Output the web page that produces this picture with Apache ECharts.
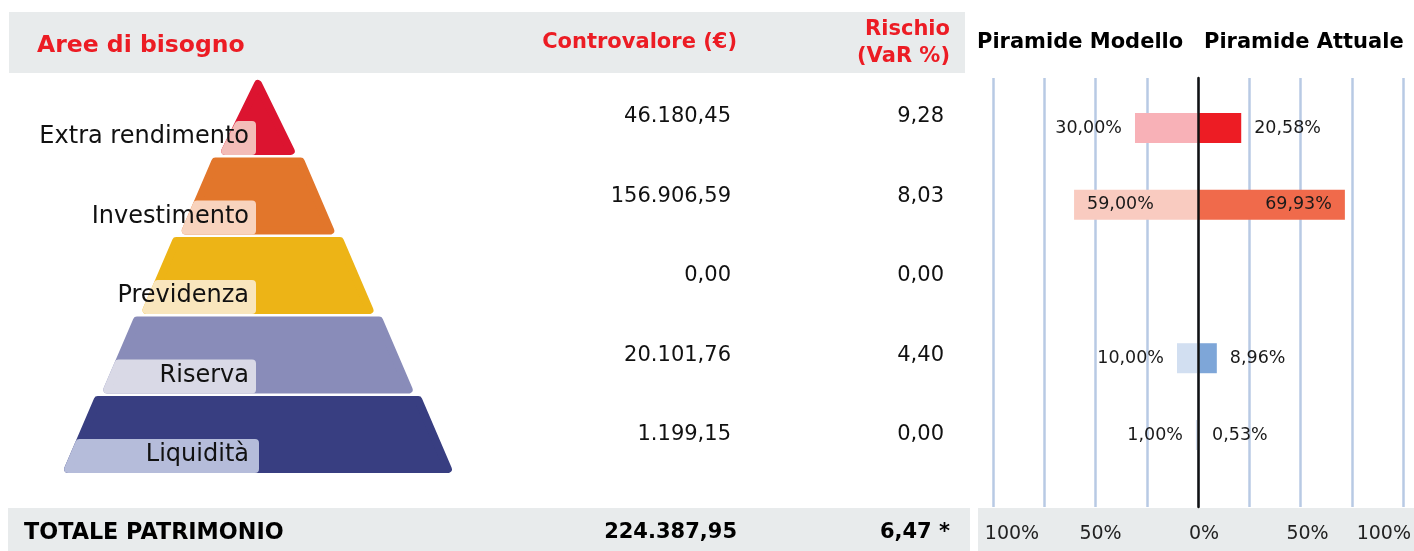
<!DOCTYPE html>
<html><head><meta charset="utf-8">
<script src="https://cdn.jsdelivr.net/npm/echarts@6/dist/echarts.min.js"></script>
<style>html,body{margin:0;padding:0;background:#fff}#c{width:1414px;height:551px}</style>
</head><body><div id="c"></div>
<script>
// ---- DATA ----
const categories = ['Extra rendimento', 'Investimento', 'Previdenza', 'Riserva', 'Liquidità'];
const controvalore = [46180.45, 156906.59, 0.00, 20101.76, 1199.15];
const rischio = [9.28, 8.03, 0.00, 4.40, 0.00];
const rischioTotale = 6.47;
const piramideModello = [30.00, 59.00, 0, 10.00, 1.00];
const piramideAttuale = [20.58, 69.93, 0, 8.96, 0.53];
const axisTickLabels = ['100%', '50%', '0%', '50%', '100%'];

// ---- STYLES ----
const tierColors = ['#dc1430', '#e2762b', '#edb416', '#898cb9', '#383e81'];
const tierLightColors = ['#f3bcb8', '#f8d3bd', '#f9e6bd', '#d9d9e6', '#b5bcda'];
const modelloColors = ['#f8b1b7', '#f9cbc0', '#fbe3ad', '#d2dff1', '#d3deee'];
const attualeColors = ['#ed1c24', '#f06a4b', '#f3b622', '#7ea6d8', '#5b7fc0'];
const RED = '#ec1c24';
const FONT = '"DejaVu Sans", Verdana, sans-serif';

function fmtIt(v, dec) {
  const s = Math.abs(v).toFixed(dec);
  let parts = s.split('.');
  let intPart = parts[0].replace(/\B(?=(\d{3})+(?!\d))/g, '.');
  return (v < 0 ? '-' : '') + intPart + (parts[1] ? ',' + parts[1] : '');
}
const totale = controvalore.reduce((a, b) => a + b, 0);

function txt(text, x, y, opts) {
  const o = opts || {};
  return {
    type: 'text', z: 5,
    style: {
      text: text, x: x, y: y,
      fill: o.color || '#111',
      font: (o.weight || 'normal') + ' ' + (o.size || 20) + 'px ' + FONT,
      align: o.align || 'left', textAlign: o.align || 'left',
      verticalAlign: 'middle', textVerticalAlign: 'middle'
    }
  };
}

function renderPyramid(params, api) {
  const i = api.value(1);
  const rowTop = api.coord([0, i])[1];
  const rh = api.size([0, 1])[1];
  const xc = api.coord([258, i])[0];
  const top = rowTop + 1;
  const bot = rowTop + rh - 1.5;
  const B = 39.2 * (i + 1);
  const T = i === 0 ? 0 : B - 33;
  const hw = y => T + (B - T) * (y - top) / (bot - top);
  const s = 4, sh = 4.4;
  const e = y => Math.max(0, hw(y) - sh);
  const yt = top + (i === 0 ? 6 : s), yb = bot - s;
  const tier = {
    type: 'polygon',
    shape: { points: [[xc - e(yt), yt], [xc + e(yt), yt], [xc + e(yb), yb], [xc - e(yb), yb]] },
    style: { fill: tierColors[i], stroke: tierColors[i], lineWidth: 8, lineJoin: 'round' }
  };
  const boxTop = bot - 34 + s;
  const boxRight = xc - 2 - s + (i === 4 ? 3 : 0);
  const box = {
    type: 'polygon',
    shape: { points: [[xc - e(boxTop), boxTop], [boxRight, boxTop], [boxRight, yb], [xc - e(yb), yb]] },
    style: { fill: tierLightColors[i], stroke: tierLightColors[i], lineWidth: 8, lineJoin: 'round' }
  };
  const mkText = (t, x, y, size) => ({
    type: 'text',
    style: {
      text: t, x: x, y: y, fill: '#111', font: 'normal ' + size + 'px ' + FONT,
      align: 'right', textAlign: 'right', verticalAlign: 'middle', textVerticalAlign: 'middle'
    }
  });
  const rowMid = rowTop + rh / 2;
  return {
    type: 'group',
    children: [
      tier, box,
      mkText(categories[i], 249, bot - 18, 24),
      mkText(fmtIt(controvalore[i], 2), api.coord([731, i])[0], rowMid, 21),
      mkText(fmtIt(rischio[i], 2), api.coord([944, i])[0], rowMid, 21)
    ]
  };
}

const barLabel = {
  show: true, distance: 13, fontSize: 17.5, fontFamily: FONT, color: '#1a1a1a',
  formatter: p => (p.value === 0 ? '' : fmtIt(Math.abs(p.value), 2) + '%')
};

const chart = echarts.init(document.getElementById('c'), null, { renderer: 'canvas' });
chart.setOption({
  animation: false,
  backgroundColor: '#ffffff',
  grid: [
    { left: 993, top: 78, width: 410, height: 429 },
    { left: 993, top: 89.6, width: 410, height: 383.75 },
    { left: 997, top: 512, width: 416, height: 1 },
    { left: 0, top: 77, width: 1414, height: 397.5 }
  ],
  xAxis: [
    { gridIndex: 0, type: 'value', min: -97.6, max: 97.6, interval: 24.4,
      axisLine: { show: false }, axisTick: { show: false }, axisLabel: { show: false },
      splitLine: { show: true, lineStyle: { color: '#b8cae4', width: 2.5 } } },
    { gridIndex: 1, type: 'value', min: -97.6, max: 97.6, show: false },
    { gridIndex: 2, type: 'value', min: -100, max: 100, interval: 50,
      axisLine: { show: false }, axisTick: { show: false }, splitLine: { show: false },
      axisLabel: { formatter: (v, idx) => (idx === 0 ? '{a|' + axisTickLabels[idx] + '}' : axisTickLabels[idx]),
        fontSize: 19, fontFamily: FONT, color: '#222', margin: 12,
        alignMinLabel: 'center', alignMaxLabel: 'right',
        rich: { a: { fontSize: 19, fontFamily: FONT, color: '#222', padding: [0, 0, 0, 30] } } } },
    { gridIndex: 3, type: 'value', min: 0, max: 1414, show: false }
  ],
  yAxis: [
    { gridIndex: 0, type: 'category', data: [''], z: 10,
      axisLine: { show: true, onZero: true, lineStyle: { color: '#111', width: 2.5 } },
      axisTick: { show: false }, axisLabel: { show: false }, splitLine: { show: false } },
    { gridIndex: 1, type: 'category', data: categories, inverse: true, show: false },
    { gridIndex: 2, type: 'category', data: [''], show: false },
    { gridIndex: 3, type: 'value', min: 0, max: 5, inverse: true, show: false }
  ],
  graphic: [
    { type: 'rect', z: -1, shape: { x: 9, y: 12, width: 956, height: 61 }, style: { fill: '#e8ebec' } },
    { type: 'rect', z: -1, shape: { x: 8, y: 508, width: 962, height: 43 }, style: { fill: '#e8ebec' } },
    { type: 'rect', z: -1, shape: { x: 978, y: 508, width: 436, height: 43 }, style: { fill: '#e8ebec' } },
    txt('Aree di bisogno', 37, 46, { color: RED, weight: 'bold', size: 23.5 }),
    txt('Controvalore (€)', 737, 43, { color: RED, weight: 'bold', size: 21, align: 'right' }),
    txt('Rischio', 950, 30, { color: RED, weight: 'bold', size: 21, align: 'right' }),
    txt('(VaR %)', 950, 57, { color: RED, weight: 'bold', size: 21, align: 'right' }),
    txt('Piramide Modello', 977, 43, { color: '#000', weight: 'bold', size: 21 }),
    txt('Piramide Attuale', 1204, 43, { color: '#000', weight: 'bold', size: 21 }),
    txt('TOTALE PATRIMONIO', 24, 533, { color: '#000', weight: 'bold', size: 22.3 }),
    txt(fmtIt(totale, 2), 737, 533, { color: '#000', weight: 'bold', size: 21, align: 'right' }),
    txt(fmtIt(rischioTotale, 2) + ' *', 950, 533, { color: '#000', weight: 'bold', size: 21, align: 'right' })
  ],
  series: [
    { name: 'Piramide Modello', type: 'bar', xAxisIndex: 1, yAxisIndex: 1, barWidth: 30, barGap: '-100%',
      label: barLabel,
      data: piramideModello.map((v, i) => ({ value: -v, itemStyle: { color: modelloColors[i] },
        label: { position: v > 40 ? 'insideLeft' : 'left' } })) },
    { name: 'Piramide Attuale', type: 'bar', xAxisIndex: 1, yAxisIndex: 1, barWidth: 30, barGap: '-100%',
      label: barLabel,
      data: piramideAttuale.map((v, i) => ({ value: v, itemStyle: { color: attualeColors[i] },
        label: { position: v > 40 ? 'insideRight' : 'right' } })) },
    { name: 'Aree di bisogno', type: 'custom', xAxisIndex: 3, yAxisIndex: 3,
      renderItem: renderPyramid,
      data: categories.map((c, i) => [0, i]) }
  ]
});
</script></body></html>
